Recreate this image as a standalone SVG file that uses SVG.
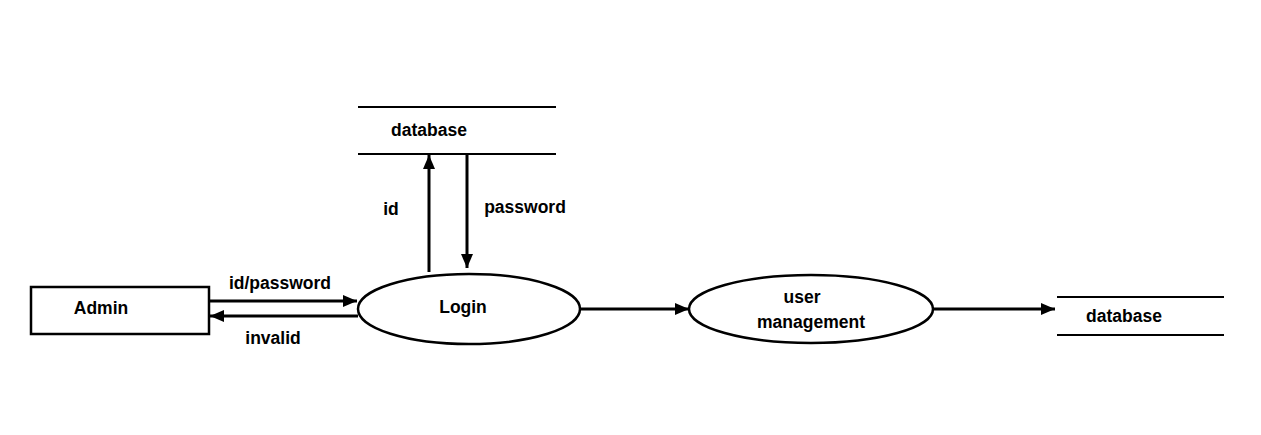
<svg xmlns="http://www.w3.org/2000/svg" width="1261" height="435" viewBox="0 0 1261 435">
<style>
.t{font-family:"Liberation Sans",Arial,sans-serif;font-weight:bold;font-size:17.5px;fill:#000;text-anchor:middle;dominant-baseline:central}
.s{fill:#fff;stroke:#000;stroke-width:2.5}
.l{stroke:#000;stroke-width:2}
.c{fill:none;stroke:#000;stroke-width:3}
</style>
<defs>
<marker id="a" markerWidth="14" markerHeight="12" refX="14" refY="6" orient="auto" markerUnits="userSpaceOnUse">
<path d="M0,0 L14,6 L0,12 Z" fill="#000"/>
</marker>
</defs>
<rect width="1261" height="435" fill="#fff"/>
<g id="connectors">
<line class="c" x1="209" y1="301" x2="357" y2="301" marker-end="url(#a)"/>
<line class="c" x1="358" y1="316" x2="210" y2="316" marker-end="url(#a)"/>
<line class="c" x1="429" y1="272" x2="429" y2="155" marker-end="url(#a)"/>
<line class="c" x1="467" y1="154" x2="467" y2="268" marker-end="url(#a)"/>
<line class="c" x1="580" y1="309" x2="689" y2="309" marker-end="url(#a)"/>
<line class="c" x1="933" y1="309" x2="1055" y2="309" marker-end="url(#a)"/>
<text class="t" x="280" y="283">id/password</text>
<text class="t" x="273" y="338">invalid</text>
<text class="t" x="391" y="209">id</text>
<text class="t" x="525" y="207">password</text>
</g>
<g id="admin">
<rect class="s" x="31" y="287" width="178" height="47"/>
<text class="t" x="101" y="308">Admin</text>
</g>
<g id="login">
<ellipse class="s" cx="469" cy="309" rx="111" ry="35"/>
<text class="t" x="463" y="307">Login</text>
</g>
<g id="user-management">
<ellipse class="s" cx="811" cy="309" rx="122" ry="34"/>
<text class="t" x="802" y="297">user</text>
<text class="t" x="811" y="322">management</text>
</g>
<g id="database-top">
<line class="l" x1="358" y1="107" x2="556" y2="107"/>
<line class="l" x1="358" y1="154" x2="556" y2="154"/>
<text class="t" x="429" y="130">database</text>
</g>
<g id="database-right">
<line class="l" x1="1057" y1="297" x2="1224" y2="297"/>
<line class="l" x1="1057" y1="335" x2="1224" y2="335"/>
<text class="t" x="1124" y="316">database</text>
</g>
</svg>
